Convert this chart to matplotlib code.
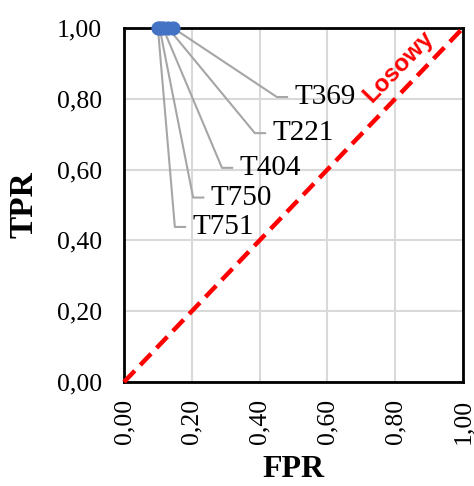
import matplotlib
matplotlib.use("Agg")
import matplotlib.pyplot as plt

# dane: modele i ich punkty ROC
models = ["T751", "T750", "T404", "T221", "T369"]
fpr = [0.100, 0.105, 0.115, 0.130, 0.145]
tpr = [1.00, 1.00, 1.00, 1.00, 1.00]
ticks = [0.0, 0.2, 0.4, 0.6, 0.8, 1.0]
tick_labels = ["0,00", "0,20", "0,40", "0,60", "0,80", "1,00"]

# pozycje etykiet (kolanko linii odniesienia)
label_pos = {"T751": (0.150, 0.438), "T750": (0.204, 0.521), "T404": (0.289, 0.605),
             "T221": (0.386, 0.703), "T369": (0.451, 0.805)}

plt.rcParams['font.family'] = ['Liberation Serif', 'DejaVu Serif']

fig = plt.figure(figsize=(4.74, 4.86), dpi=100)
ax = fig.add_axes([0.2616, 0.214, 0.7152, 0.7284])

ax.set_xlim(0, 1)
ax.set_ylim(0, 1)
ax.set_xticks(ticks)
ax.set_yticks(ticks)
ax.set_xticklabels(tick_labels, rotation=90, fontsize=18.5)
ax.set_yticklabels(tick_labels, fontsize=18.5)
ax.tick_params(axis="y", length=0, pad=16)
ax.tick_params(axis="x", length=0, pad=12)
ax.grid(True, color="#D9D9D9", linewidth=1.5)
ax.set_axisbelow(True)
for sp in ax.spines.values():
    sp.set_linewidth(2)
    sp.set_color("black")

# linia losowa
ax.plot([0, 1], [0, 1], color="#FF0000", linewidth=3.2, linestyle=(0, (3.5, 1.8)),
        clip_on=False, zorder=3)
ax.text(0.81, 0.89, "Losowy", color="#FF0000", fontsize=17.5, fontweight="bold",
        family=["Liberation Sans"], rotation=46, ha="center", va="center",
        rotation_mode="anchor", zorder=4)

# linie odniesienia i etykiety
for name, x, y in zip(models, fpr, tpr):
    ex, ey = label_pos[name]
    ax.plot([x, ex, ex + 0.03], [y, ey, ey], color="#A6A6A6", linewidth=1.5, zorder=2)
    ax.text(ex + 0.052, ey, name, fontsize=21, ha="left", va="center")

ax.scatter(fpr, tpr, s=85, color="#4472C4", clip_on=False, zorder=5)

ax.set_xlabel("FPR", fontsize=23, fontweight="bold", labelpad=8)
ax.set_ylabel("TPR", fontsize=24, fontweight="bold", labelpad=12)

fig.savefig("out.png", dpi=100)
